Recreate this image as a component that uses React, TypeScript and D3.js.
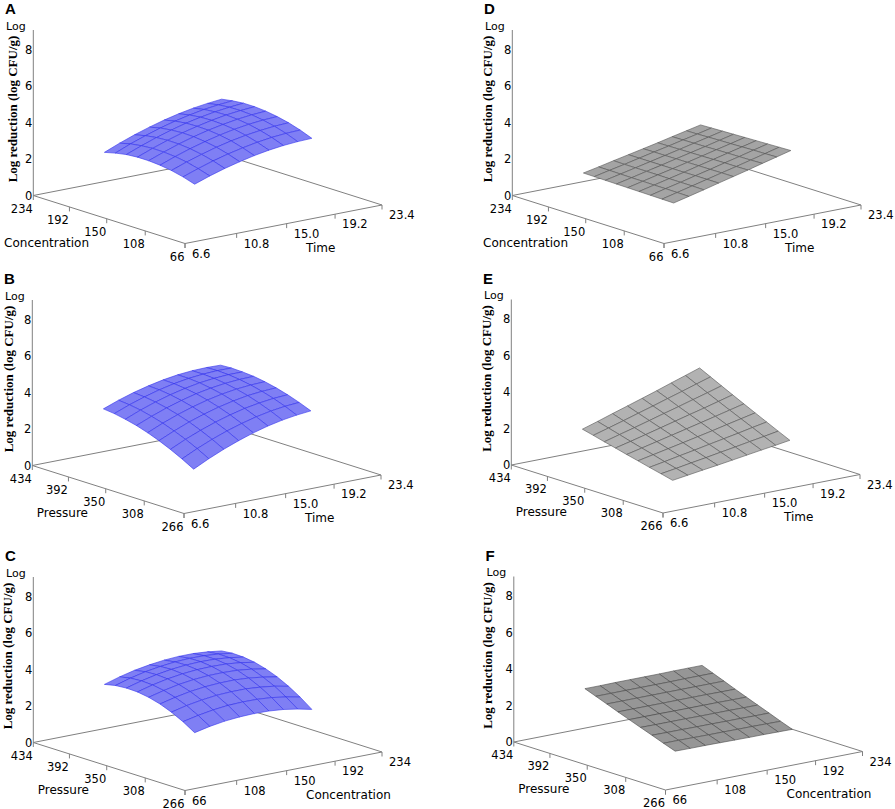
import React from 'react';
import * as d3 from 'd3';

// Axis ticks of the three factors and of the response
const concTicks = [66, 108, 150, 192, 234];
const timeTicks = [6.6, 10.8, 15.0, 19.2, 23.4];
const pressureTicks = [266, 308, 350, 392, 434];
const logTicks = [0, 2, 4, 6, 8];

// Where the surfaces are sampled (experimental range)
const concGrid = [100, 112.5, 125, 137.5, 150, 162.5, 175, 187.5, 200];
const timeGrid = [10, 11.25, 12.5, 13.75, 15, 16.25, 17.5, 18.75, 20];
const pressureGrid = [300, 312.5, 325, 337.5, 350, 362.5, 375, 387.5, 400];

// Log reduction.
// rows = second factor (low -> high), columns = first factor (low -> high)
const surfaceA = [ // rows time, cols concentration
  [2.24, 2.44, 2.59, 2.68, 2.73, 2.73, 2.68, 2.57, 2.42],
  [2.53, 2.73, 2.89, 2.99, 3.04, 3.05, 3.00, 2.91, 2.76],
  [2.78, 2.99, 3.15, 3.26, 3.32, 3.33, 3.29, 3.20, 3.06],
  [2.99, 3.21, 3.38, 3.49, 3.56, 3.58, 3.54, 3.46, 3.32],
  [3.17, 3.39, 3.57, 3.69, 3.76, 3.78, 3.76, 3.68, 3.55],
  [3.31, 3.54, 3.72, 3.85, 3.92, 3.95, 3.93, 3.86, 3.74],
  [3.41, 3.65, 3.83, 3.97, 4.05, 4.09, 4.07, 4.01, 3.89],
  [3.47, 3.72, 3.91, 4.05, 4.14, 4.18, 4.17, 4.11, 4.00],
  [3.50, 3.75, 3.95, 4.09, 4.19, 4.24, 4.24, 4.18, 4.08],
];
const surfaceB = [ // rows time, cols pressure
  [1.42, 1.78, 2.10, 2.38, 2.62, 2.82, 2.97, 3.09, 3.16],
  [1.83, 2.18, 2.49, 2.75, 2.98, 3.16, 3.31, 3.41, 3.47],
  [2.19, 2.53, 2.82, 3.08, 3.29, 3.46, 3.59, 3.68, 3.73],
  [2.50, 2.83, 3.11, 3.35, 3.55, 3.71, 3.83, 3.91, 3.94],
  [2.77, 3.08, 3.35, 3.58, 3.77, 3.92, 4.02, 4.09, 4.11],
  [2.99, 3.29, 3.55, 3.76, 3.94, 4.07, 4.17, 4.22, 4.23],
  [3.16, 3.45, 3.69, 3.90, 4.06, 4.18, 4.26, 4.30, 4.30],
  [3.28, 3.56, 3.79, 3.98, 4.13, 4.24, 4.31, 4.34, 4.32],
  [3.36, 3.62, 3.84, 4.02, 4.16, 4.26, 4.31, 4.33, 4.30],
];
const surfaceC = [ // rows concentration, cols pressure
  [2.16, 2.56, 2.88, 3.13, 3.30, 3.40, 3.42, 3.37, 3.24],
  [2.34, 2.74, 3.08, 3.33, 3.51, 3.62, 3.65, 3.61, 3.49],
  [2.47, 2.88, 3.22, 3.49, 3.68, 3.79, 3.83, 3.80, 3.69],
  [2.54, 2.97, 3.32, 3.59, 3.79, 3.91, 3.96, 3.93, 3.83],
  [2.57, 3.00, 3.36, 3.64, 3.85, 3.98, 4.04, 4.02, 3.93],
  [2.55, 2.99, 3.36, 3.65, 3.86, 4.00, 4.07, 4.06, 3.98],
  [2.48, 2.93, 3.30, 3.60, 3.83, 3.98, 4.05, 4.05, 3.98],
  [2.35, 2.81, 3.20, 3.50, 3.74, 3.90, 3.98, 3.99, 3.92],
  [2.18, 2.65, 3.04, 3.36, 3.60, 3.77, 3.86, 3.88, 3.82],
];
const surfaceD = [ // rows time, cols concentration
  [1.21, 1.22, 1.23, 1.24, 1.25, 1.26, 1.27, 1.28, 1.29],
  [1.41, 1.42, 1.43, 1.43, 1.44, 1.44, 1.45, 1.46, 1.46],
  [1.61, 1.62, 1.62, 1.62, 1.63, 1.63, 1.63, 1.63, 1.64],
  [1.82, 1.82, 1.82, 1.81, 1.81, 1.81, 1.81, 1.81, 1.81],
  [2.02, 2.02, 2.01, 2.01, 2.00, 2.00, 1.99, 1.99, 1.98],
  [2.22, 2.21, 2.21, 2.20, 2.19, 2.18, 2.17, 2.16, 2.15],
  [2.43, 2.41, 2.40, 2.39, 2.38, 2.36, 2.35, 2.34, 2.33],
  [2.63, 2.61, 2.60, 2.58, 2.56, 2.55, 2.53, 2.51, 2.50],
  [2.83, 2.81, 2.79, 2.77, 2.75, 2.73, 2.71, 2.69, 2.67],
];
const surfaceE = [ // rows time, cols pressure
  [0.78, 0.94, 1.09, 1.25, 1.40, 1.56, 1.71, 1.87, 2.02],
  [0.90, 1.07, 1.24, 1.42, 1.59, 1.76, 1.94, 2.11, 2.28],
  [1.02, 1.21, 1.40, 1.59, 1.78, 1.97, 2.16, 2.35, 2.55],
  [1.13, 1.34, 1.55, 1.76, 1.97, 2.18, 2.39, 2.60, 2.81],
  [1.25, 1.48, 1.71, 1.93, 2.16, 2.39, 2.62, 2.84, 3.07],
  [1.37, 1.61, 1.86, 2.10, 2.35, 2.60, 2.84, 3.09, 3.33],
  [1.49, 1.75, 2.01, 2.28, 2.54, 2.80, 3.07, 3.33, 3.60],
  [1.60, 1.88, 2.17, 2.45, 2.73, 3.01, 3.29, 3.58, 3.86],
  [1.72, 2.02, 2.32, 2.62, 2.92, 3.22, 3.52, 3.82, 4.12],
];
const surfaceF = [ // rows concentration, cols pressure
  [1.12, 1.35, 1.59, 1.82, 2.05, 2.28, 2.52, 2.75, 2.98],
  [1.11, 1.35, 1.58, 1.81, 2.05, 2.28, 2.52, 2.75, 2.98],
  [1.11, 1.34, 1.58, 1.81, 2.05, 2.28, 2.52, 2.75, 2.99],
  [1.10, 1.33, 1.57, 1.81, 2.04, 2.28, 2.52, 2.75, 2.99],
  [1.09, 1.33, 1.57, 1.80, 2.04, 2.28, 2.52, 2.75, 2.99],
  [1.08, 1.32, 1.56, 1.80, 2.04, 2.28, 2.52, 2.75, 2.99],
  [1.08, 1.32, 1.56, 1.80, 2.04, 2.28, 2.52, 2.76, 3.00],
  [1.07, 1.31, 1.55, 1.79, 2.03, 2.27, 2.52, 2.76, 3.00],
  [1.06, 1.30, 1.55, 1.79, 2.03, 2.27, 2.52, 2.76, 3.00],
];

interface Factor {
  name: string;
  ticks: number[];
  grid: number[];
  fmt: (v: number) => string;
}

const conc: Factor = { name: 'Concentration', ticks: concTicks, grid: concGrid, fmt: d3.format('d') };
const time: Factor = { name: 'Time', ticks: timeTicks, grid: timeGrid, fmt: d3.format('.1f') };
const pressure: Factor = { name: 'Pressure', ticks: pressureTicks, grid: pressureGrid, fmt: d3.format('d') };

interface PanelDef {
  letter: string;
  x0: number;
  y0: number;
  first: Factor;  // runs to the left-front
  second: Factor; // runs to the right-front
  surface: number[][];
  fill: string;
  stroke: string;
  yLabelX: number;
}

const BLUE_FILL = '#7f7ff4';
const BLUE_LINE = '#3434ec';
const GRAY_LINE = '#555555';

const panels: PanelDef[] = [
  { letter: 'A', x0: 0, y0: 0, first: conc, second: time, surface: surfaceA, fill: BLUE_FILL, stroke: BLUE_LINE, yLabelX: 12.5 },
  { letter: 'B', x0: -1, y0: 270, first: pressure, second: time, surface: surfaceB, fill: BLUE_FILL, stroke: BLUE_LINE, yLabelX: 9 },
  { letter: 'C', x0: 0, y0: 547, first: pressure, second: conc, surface: surfaceC, fill: BLUE_FILL, stroke: BLUE_LINE, yLabelX: 7 },
  { letter: 'D', x0: 479, y0: 0, first: conc, second: time, surface: surfaceD, fill: '#a4a4a4', stroke: GRAY_LINE, yLabelX: 8 },
  { letter: 'E', x0: 478, y0: 269.5, first: pressure, second: time, surface: surfaceE, fill: '#b2b2b2', stroke: GRAY_LINE, yLabelX: 8 },
  { letter: 'F', x0: 480.5, y0: 546.5, first: pressure, second: conc, surface: surfaceF, fill: '#969696', stroke: '#4a4a4a', yLabelX: 6.5 },
];

// floor corners in panel coordinates
const L: [number, number] = [33.3, 195.5]; // first max, second min
const F: [number, number] = [185, 243.5];  // both min (front)
const R: [number, number] = [382, 205];    // first min, second max
const Z_TOP = 30;
const AXIS = '#808080';
const SANS = '"DejaVu Sans", Verdana, sans-serif';

const zPx = d3.scaleLinear().domain([0, 8]).range([0, 146]);
// slight perspective along the floor
const warp = (f: number) => (f * 1.066) / (1 + 0.066 * f);

const project = (a: number, b: number, z: number): [number, number] => {
  const fa = warp(a);
  const fb = warp(b);
  return [
    F[0] + fa * (L[0] - F[0]) + fb * (R[0] - F[0]),
    F[1] + fa * (L[1] - F[1]) + fb * (R[1] - F[1]) - zPx(z),
  ];
};

const Panel: React.FC<{ def: PanelDef }> = ({ def }) => {
  const sa = d3.scaleLinear().domain(d3.extent(def.first.ticks) as [number, number]).range([0, 1]);
  const sb = d3.scaleLinear().domain(d3.extent(def.second.ticks) as [number, number]).range([0, 1]);
  const back = project(1, 1, 0);

  // projected surface points
  const pts = def.surface.map((row, i) =>
    row.map((z, j) => project(sa(def.first.grid[j]), sb(def.second.grid[i]), z))
  );
  const quads: { d: string; depth: number }[] = [];
  for (let i = 0; i < pts.length - 1; i++) {
    for (let j = 0; j < pts[i].length - 1; j++) {
      const poly = [pts[i][j], pts[i][j + 1], pts[i + 1][j + 1], pts[i + 1][j]];
      const a = sa((def.first.grid[j] + def.first.grid[j + 1]) / 2);
      const b = sb((def.second.grid[i] + def.second.grid[i + 1]) / 2);
      quads.push({ d: (d3.line()(poly) || '') + 'Z', depth: project(a, b, 0)[1] });
    }
  }
  quads.sort((p, q) => p.depth - q.depth); // far ones first

  return (
    <g transform={`translate(${def.x0},${def.y0})`}>
      <text x={5} y={14} fontFamily='"Liberation Sans", Arial, sans-serif' fontWeight="bold" fontSize={15}>
        {def.letter}
      </text>
      <text x={6} y={29.5} fontFamily={SANS} fontSize={11}>Log</text>
      <text
        transform={`translate(${def.yLabelX},109) rotate(-90)`}
        textAnchor="middle"
        dy="0.35em"
        fontFamily='"Liberation Serif", "Times New Roman", serif'
        fontWeight="bold"
        fontSize={13}
      >
        Log reduction (log CFU/g)
      </text>

      {/* floor */}
      <g stroke={AXIS} strokeWidth={1} fill="none">
        <line x1={L[0]} y1={L[1]} x2={back[0]} y2={back[1]} />
        <line x1={R[0]} y1={R[1]} x2={back[0]} y2={back[1]} />
        <line x1={L[0]} y1={L[1]} x2={F[0]} y2={F[1]} />
        <line x1={F[0]} y1={F[1]} x2={R[0]} y2={R[1]} />
        <line x1={L[0]} y1={L[1]} x2={L[0]} y2={Z_TOP} />
      </g>

      {/* z axis labels */}
      {logTicks.map((v) => (
        <text key={`z${v}`} x={L[0] - 1} y={L[1] - zPx(v)} dy="0.35em" textAnchor="end" fontFamily={SANS} fontSize={11.5}>
          {v}
        </text>
      ))}

      {/* first factor axis */}
      {def.first.ticks.map((v) => {
        const [x, y] = project(sa(v), 0, 0);
        return (
          <g key={`f${v}`}>
            <line x1={x} y1={y} x2={x} y2={y + 4.5} stroke={AXIS} />
            <text x={x - 0.5} y={y + 17} textAnchor="end" fontFamily={SANS} fontSize={11.5}>
              {def.first.fmt(v)}
            </text>
          </g>
        );
      })}
      <text x={89} y={246.5} textAnchor="end" fontFamily={SANS} fontSize={12}>{def.first.name}</text>

      {/* second factor axis */}
      {def.second.ticks.map((v) => {
        const [x, y] = project(0, sb(v), 0);
        return (
          <g key={`s${v}`}>
            <line x1={x} y1={y} x2={x} y2={y + 4.5} stroke={AXIS} />
            <text x={x + 7} y={y + 14.3} textAnchor="start" fontFamily={SANS} fontSize={11.5}>
              {def.second.fmt(v)}
            </text>
          </g>
        );
      })}
      <text x={306} y={251.8} textAnchor="start" fontFamily={SANS} fontSize={12}>{def.second.name}</text>

      {/* response surface */}
      <g fill={def.fill} stroke={def.stroke} strokeWidth={0.6} strokeLinejoin="round">
        {quads.map((q, k) => (
          <path key={k} d={q.d} />
        ))}
      </g>
    </g>
  );
};

const App: React.FC = () => (
  <div style={{ position: 'absolute', left: 0, top: 0 }}>
    <svg width={895} height={809} style={{ display: 'block', background: '#fff' }}>
      {panels.map((p) => (
        <Panel key={p.letter} def={p} />
      ))}
    </svg>
  </div>
);

export default App;
